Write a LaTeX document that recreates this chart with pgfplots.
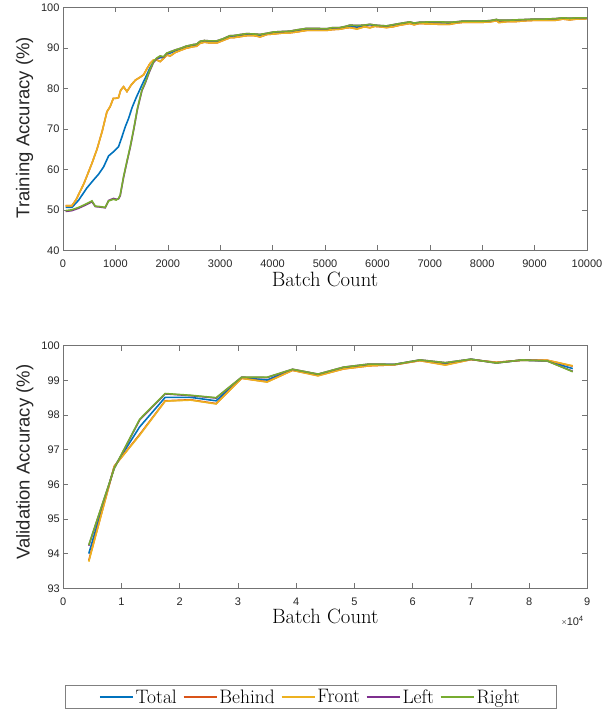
\documentclass[border=0pt]{standalone}
\usepackage{fontspec}
\usepackage{pgfplots}
\pgfplotsset{compat=1.18}
\newfontfamily\arial{Liberation Sans}
\definecolor{cTotal}{rgb}{0,0.447,0.741}
\definecolor{cBehind}{rgb}{0.85,0.325,0.098}
\definecolor{cFront}{rgb}{0.929,0.694,0.125}
\definecolor{cLeft}{rgb}{0.494,0.184,0.556}
\definecolor{cRight}{rgb}{0.466,0.674,0.188}
\pgfplotsset{
  myaxis/.style={
    scale only axis, width=524bp,
    axis line style={draw=black!55, line width=0.6bp},
    major tick style={draw=black!55, line width=0.6bp},
    major tick length=5bp,
    tick label style={font=\arial\fontsize{11bp}{13bp}\selectfont, text=black!85},
    /pgf/number format/assume math mode=true,
    /pgf/number format/1000 sep={},
    scaled ticks=false,
    xticklabel style={yshift=-6bp},
    xlabel style={font=\fontsize{20.7bp}{24bp}\selectfont, anchor=base},
    ylabel style={font=\arial\fontsize{18.5bp}{22bp}\selectfont, text=black!85, anchor=center},
    every axis plot/.append style={line width=1.6bp, mark=none},
    clip mode=individual,
  }
}
\begin{document}
\begin{tikzpicture}
\path[use as bounding box] (0,0) rectangle (613bp,-711bp);
\begin{axis}[myaxis, height=243bp,
  at={(63bp,-250.3bp)}, anchor=south west,
  xmin=0, xmax=10000, ymin=40, ymax=100,
  xtick={0,1000,...,10000}, ytick={40,50,...,100},
  xlabel={Batch Count}, ylabel={Training Accuracy (\%)},
  xlabel style={at={(0.5,-0.147)}},
  ylabel style={at={(-0.0735,0.505)}},
]
\addplot[cTotal] coordinates {(50,50.6)(170,50.6)(300,52.4)(450,55.3)(585,57.4)(680,58.8)(775,60.6)(870,63.3)(960,64.3)(1060,65.6)(1120,67.8)(1188,70.5)(1250,72.5)(1320,75.3)(1400,77.8)(1506,80.8)(1580,82.8)(1650,84.8)(1728,86.6)(1790,87.2)(1855,87.6)(1920,87.5)(1980,88.4)(2046,88.7)(2150,89.3)(2250,89.7)(2350,90.2)(2489,90.6)(2550,90.7)(2616,91.4)(2700,91.6)(2800,91.5)(2934,91.5)(3050,92.0)(3189,92.9)(3250,92.6)(3350,93.0)(3507,93.3)(3650,93.3)(3762,93.1)(3900,93.5)(4015,93.7)(4150,93.9)(4332,94.0)(4450,94.2)(4650,94.6)(4800,94.6)(5030,94.6)(5150,94.8)(5284,94.8)(5400,95.2)(5476,95.4)(5610,95.1)(5750,95.5)(5858,95.7)(5950,95.5)(6050,95.4)(6174,95.3)(6300,95.6)(6428,95.9)(6619,96.2)(6700,96.0)(6800,96.2)(7000,96.2)(7200,96.2)(7380,96.1)(7500,96.3)(7636,96.5)(8000,96.5)(8150,96.6)(8273,96.9)(8320,96.5)(8500,96.7)(8654,96.8)(8850,96.9)(9036,97.0)(9200,97.0)(9400,97.1)(9543,97.3)(9670,97.1)(9800,97.3)(10000,97.3)};
\addplot[cBehind] coordinates {(50,51.0)(170,51.0)(250,52.5)(400,56.5)(553,61.5)(650,65.0)(750,69.5)(838,74.2)(900,75.5)(960,77.5)(1000,77.5)(1060,77.7)(1100,79.5)(1156,80.4)(1220,79.2)(1300,80.8)(1380,82.0)(1442,82.5)(1537,83.3)(1600,84.8)(1664,86.2)(1728,87.0)(1790,87.0)(1855,86.6)(1920,87.4)(1980,88.2)(2046,88.0)(2150,88.9)(2250,89.4)(2350,89.9)(2489,90.3)(2550,90.4)(2616,91.1)(2700,91.4)(2800,91.2)(2934,91.2)(3050,91.8)(3189,92.5)(3250,92.5)(3350,92.7)(3507,93.0)(3650,93.0)(3762,92.7)(3900,93.3)(4015,93.4)(4150,93.6)(4332,93.7)(4450,93.9)(4650,94.3)(4800,94.3)(5030,94.3)(5150,94.5)(5284,94.6)(5400,94.9)(5476,95.0)(5610,94.7)(5750,95.2)(5858,95.0)(5950,95.3)(6050,95.2)(6174,95.0)(6300,95.2)(6428,95.6)(6619,96.0)(6700,95.7)(6800,96.0)(7000,95.9)(7200,95.8)(7380,95.8)(7500,96.1)(7636,96.3)(8000,96.3)(8150,96.4)(8273,96.7)(8320,96.3)(8500,96.5)(8654,96.5)(8850,96.7)(9036,96.8)(9200,96.8)(9400,96.8)(9543,97.1)(9670,96.9)(9800,97.1)(10000,97.2)};
\addplot[cFront] coordinates {(50,51.0)(170,51.0)(250,52.5)(400,56.5)(553,61.5)(650,65.0)(750,69.5)(838,74.2)(900,75.5)(960,77.5)(1000,77.5)(1060,77.7)(1100,79.5)(1156,80.4)(1220,79.2)(1300,80.8)(1380,82.0)(1442,82.5)(1537,83.3)(1600,84.8)(1664,86.2)(1728,87.0)(1790,87.0)(1855,86.6)(1920,87.4)(1980,88.2)(2046,88.0)(2150,88.9)(2250,89.4)(2350,89.9)(2489,90.3)(2550,90.4)(2616,91.1)(2700,91.4)(2800,91.2)(2934,91.2)(3050,91.8)(3189,92.5)(3250,92.5)(3350,92.7)(3507,93.0)(3650,93.0)(3762,92.7)(3900,93.3)(4015,93.4)(4150,93.6)(4332,93.7)(4450,93.9)(4650,94.3)(4800,94.3)(5030,94.3)(5150,94.5)(5284,94.6)(5400,94.9)(5476,95.0)(5610,94.6)(5750,95.2)(5858,94.9)(5950,95.3)(6050,95.2)(6174,95.0)(6300,95.2)(6428,95.6)(6619,96.0)(6700,95.7)(6800,96.0)(7000,95.9)(7200,95.8)(7380,95.8)(7500,96.1)(7636,96.3)(8000,96.3)(8150,96.4)(8273,96.7)(8320,96.2)(8500,96.5)(8654,96.5)(8850,96.7)(9036,96.8)(9200,96.8)(9400,96.8)(9543,97.1)(9670,96.9)(9800,97.1)(10000,97.2)};
\addplot[cLeft] coordinates {(50,49.6)(170,49.8)(300,50.4)(450,51.3)(553,52.0)(616,50.8)(700,50.7)(806,50.5)(870,52.3)(965,52.8)(1015,52.6)(1060,52.7)(1092,53.5)(1156,58.0)(1220,61.8)(1283,65.4)(1350,69.8)(1420,74.8)(1506,79.4)(1570,81.3)(1650,84.1)(1728,86.4)(1790,87.3)(1855,87.9)(1920,87.7)(1980,88.6)(2046,89.0)(2150,89.5)(2250,89.9)(2350,90.4)(2489,90.8)(2550,90.9)(2616,91.6)(2700,91.8)(2800,91.7)(2934,91.7)(3050,92.2)(3189,93.0)(3250,93.0)(3350,93.2)(3507,93.5)(3650,93.4)(3762,93.3)(3900,93.6)(4015,93.9)(4150,94.0)(4332,94.1)(4450,94.4)(4650,94.8)(4800,94.8)(5030,94.7)(5150,95.0)(5284,95.0)(5400,95.3)(5476,95.6)(5610,95.5)(5750,95.6)(5858,95.8)(5950,95.6)(6050,95.5)(6174,95.4)(6300,95.7)(6428,96.0)(6619,96.4)(6700,96.1)(6800,96.3)(7000,96.4)(7200,96.4)(7380,96.3)(7500,96.4)(7636,96.6)(8000,96.6)(8150,96.7)(8273,97.0)(8320,96.8)(8500,96.8)(8654,96.9)(8850,97.0)(9036,97.1)(9200,97.1)(9400,97.2)(9543,97.4)(9670,97.3)(9800,97.4)(10000,97.4)};
\addplot[cRight] coordinates {(50,49.8)(170,50.0)(300,50.6)(450,51.5)(553,52.2)(616,50.9)(700,50.8)(806,50.6)(870,52.2)(965,52.6)(1015,52.4)(1060,52.8)(1092,53.7)(1156,58.2)(1220,62.0)(1283,65.6)(1350,70.0)(1420,75.0)(1506,79.6)(1570,81.5)(1650,84.3)(1728,86.6)(1790,87.5)(1855,88.0)(1920,87.8)(1980,88.7)(2046,89.0)(2150,89.5)(2250,89.9)(2350,90.4)(2489,90.8)(2550,90.9)(2616,91.6)(2700,91.8)(2800,91.7)(2934,91.7)(3050,92.2)(3189,93.0)(3250,93.0)(3350,93.2)(3507,93.5)(3650,93.4)(3762,93.3)(3900,93.6)(4015,93.9)(4150,94.0)(4332,94.1)(4450,94.4)(4650,94.8)(4800,94.8)(5030,94.7)(5150,95.0)(5284,95.0)(5400,95.3)(5476,95.6)(5610,95.5)(5750,95.6)(5858,95.8)(5950,95.6)(6050,95.5)(6174,95.4)(6300,95.7)(6428,96.0)(6619,96.4)(6700,96.1)(6800,96.3)(7000,96.4)(7200,96.4)(7380,96.3)(7500,96.4)(7636,96.6)(8000,96.6)(8150,96.7)(8273,97.0)(8320,96.8)(8500,96.8)(8654,96.9)(8850,97.0)(9036,97.1)(9200,97.1)(9400,97.2)(9543,97.4)(9670,97.3)(9800,97.4)(10000,97.4)};
\end{axis}
\begin{axis}[myaxis, height=242.6bp,
  at={(63.3bp,-588.3bp)}, anchor=south west,
  xmin=0, xmax=9, ymin=93, ymax=100,
  xtick={0,1,...,9}, ytick={93,94,...,100},
  xlabel={Batch Count}, ylabel={Validation Accuracy (\%)},
  xlabel style={at={(0.5,-0.147)}},
  ylabel style={at={(-0.0735,0.52)}},
  legend columns=5,
  legend style={at={(0.4718,-0.448)}, anchor=center, draw=black!50, line width=0.6bp,
    inner xsep=34bp, inner ysep=3bp, font=\fontsize{19.5bp}{22bp}\selectfont,
    nodes={inner xsep=2bp, inner ysep=1bp},
    /tikz/every even column/.append style={column sep=4bp}},
  legend image code/.code={\draw[#1] (0bp,0bp) -- (33bp,0bp);},
]
\addplot[cTotal] coordinates {(0.4375,94.00)(0.875,96.50)(1.3125,97.66)(1.75,98.51)(2.1875,98.51)(2.625,98.41)(3.0625,99.08)(3.5,99.01)(3.9375,99.31)(4.375,99.16)(4.8125,99.36)(5.25,99.45)(5.6875,99.46)(6.125,99.58)(6.5625,99.49)(7.0,99.61)(7.4375,99.51)(7.875,99.58)(8.3125,99.56)(8.75,99.34)};
\addlegendentry{Total}
\addplot[cBehind] coordinates {(0.4375,93.80)(0.875,96.52)(1.3125,97.44)(1.75,98.41)(2.1875,98.44)(2.625,98.33)(3.0625,99.06)(3.5,98.96)(3.9375,99.29)(4.375,99.14)(4.8125,99.33)(5.25,99.42)(5.6875,99.45)(6.125,99.57)(6.5625,99.45)(7.0,99.60)(7.4375,99.52)(7.875,99.58)(8.3125,99.58)(8.75,99.41)};
\addlegendentry{Behind}
\addplot[cFront] coordinates {(0.4375,93.77)(0.875,96.52)(1.3125,97.42)(1.75,98.40)(2.1875,98.43)(2.625,98.32)(3.0625,99.06)(3.5,98.95)(3.9375,99.29)(4.375,99.13)(4.8125,99.33)(5.25,99.42)(5.6875,99.45)(6.125,99.57)(6.5625,99.44)(7.0,99.60)(7.4375,99.52)(7.875,99.58)(8.3125,99.58)(8.75,99.42)};
\addlegendentry{Front}
\addplot[cLeft] coordinates {(0.4375,94.23)(0.875,96.46)(1.3125,97.86)(1.75,98.61)(2.1875,98.56)(2.625,98.49)(3.0625,99.09)(3.5,99.08)(3.9375,99.32)(4.375,99.18)(4.8125,99.38)(5.25,99.47)(5.6875,99.46)(6.125,99.59)(6.5625,99.51)(7.0,99.61)(7.4375,99.50)(7.875,99.59)(8.3125,99.56)(8.75,99.26)};
\addlegendentry{Left}
\addplot[cRight] coordinates {(0.4375,94.25)(0.875,96.46)(1.3125,97.88)(1.75,98.62)(2.1875,98.57)(2.625,98.50)(3.0625,99.09)(3.5,99.09)(3.9375,99.32)(4.375,99.18)(4.8125,99.38)(5.25,99.47)(5.6875,99.46)(6.125,99.59)(6.5625,99.51)(7.0,99.61)(7.4375,99.50)(7.875,99.59)(8.3125,99.56)(8.75,99.25)};
\addlegendentry{Right}
\node[anchor=base east, yshift=-36.7bp, font=\arial\fontsize{11bp}{13bp}\selectfont, text=black!85] at (rel axis cs:1,0) {{\color{black!60}\fontsize{9bp}{9bp}\selectfont ×}10\textsuperscript{4}};
\end{axis}
\end{tikzpicture}
\end{document}
